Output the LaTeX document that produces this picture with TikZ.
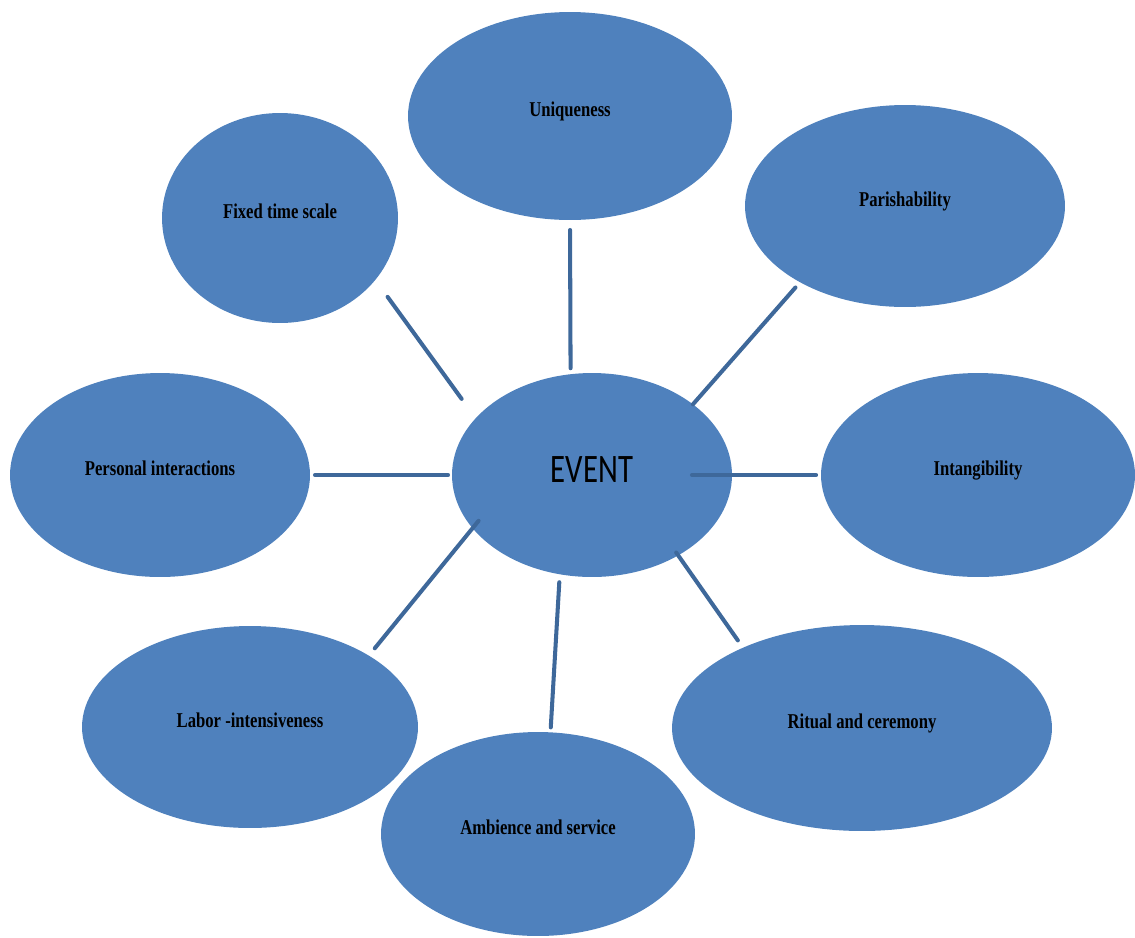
\documentclass[tikz,border=0pt]{standalone}
\usepackage{fontspec}
\setmainfont{Liberation Serif}
\newfontfamily\itemfont{Liberation Serif}[FakeStretch=0.79]
\newfontfamily\eventfont{Carlito}[FakeStretch=0.76]
\usetikzlibrary{shapes.geometric}
\definecolor{bubble}{HTML}{4F81BD}
\definecolor{spoke}{RGB}{62,104,154}

\begin{document}
\begin{tikzpicture}[x=0.02cm,y=-0.02cm,
        item/.style={ellipse,fill=bubble,inner sep=0pt,outer sep=0pt,
          text height=0.25cm,text depth=0.25cm,
          font=\itemfont\bfseries\fontsize{12}{14}\selectfont},
        link/.style={spoke,line width=2.3pt,line cap=round}]

        \useasboundingbox (0,0) rectangle (1135,937);

        \node[item,minimum width=5.6cm,minimum height=4.08cm,text height=0.55cm,text depth=0.27cm,
          font=\eventfont\fontsize{23}{26}\selectfont] (event) at (592,475) {EVENT};
        \node[item,minimum width=6.48cm,minimum height=4.16cm] (uniq) at (570,116) {Uniqueness};
        \node[item,minimum width=4.72cm,minimum height=4.2cm] (fixed) at (280,218) {Fixed time scale};
        \node[item,minimum width=6.4cm,minimum height=4.04cm] (parish) at (905,206) {Parishability};
        \node[item,minimum width=6.0cm,minimum height=4.08cm] (pers) at (160,475) {Personal interactions};
        \node[item,minimum width=6.28cm,minimum height=4.08cm] (intang) at (978,475) {Intangibility};
        \node[item,minimum width=6.72cm,minimum height=4.04cm] (labor) at (250,727) {Labor -intensiveness};
        \node[item,minimum width=6.28cm,minimum height=4.08cm] (amb) at (538,834) {Ambience and service};
        \node[item,minimum width=7.6cm,minimum height=4.12cm] (ritual) at (862,728) {Ritual and ceremony};

        \draw[link,shorten <=0.2cm,shorten >=0.12cm] (uniq.south) -- (event.102);
        \draw[link,shorten <=0.42cm,shorten >=0.48cm] (fixed.-33) -- (event.154);
        \draw[link,shorten <=0.14cm] (parish.216) -- (event.35);
        \draw[link,shorten <=0.1cm,shorten >=0.08cm] (pers.east) -- (event.west);
        \draw[link,shorten <=-0.8cm,shorten >=0.1cm] (event.east) -- (intang.west);
        \draw[link,shorten <=-0.07cm,shorten >=0.18cm] (event.-43) -- (ritual.146);
        \draw[link,shorten <=0.16cm,shorten >=0.1cm] (event.252) -- (amb.83);
        \draw[link,shorten <=-0.19cm,shorten >=0.19cm] (event.204) -- (labor.31);
      \end{tikzpicture}
\end{document}
